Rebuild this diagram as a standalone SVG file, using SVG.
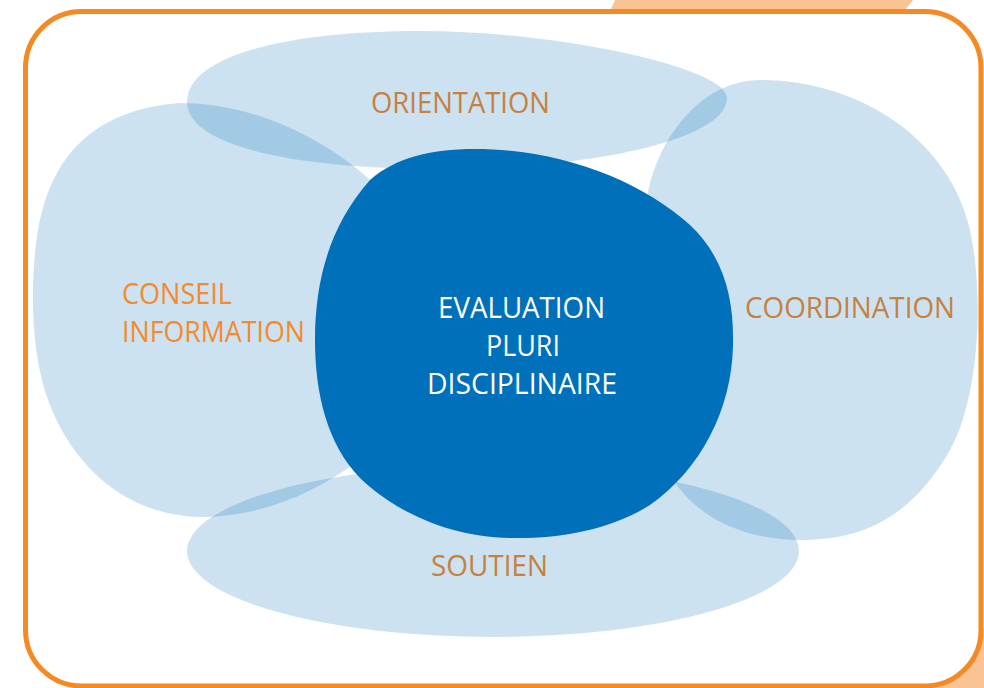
<svg xmlns="http://www.w3.org/2000/svg" width="984" height="688" viewBox="0 0 984 688">
<style>
.bg{fill:#FAC393}
.frame{fill:#ffffff;stroke:#F58A25;stroke-width:5}
.lobe{fill:#0070BA;fill-opacity:0.2}
.core{fill:#0070BA}
.lbl{font-family:"Open Sans","Liberation Sans",Arial,sans-serif;font-size:29px}
.muted{fill:#C6803F}
.bright{fill:#F58A2A}
.white{fill:#ffffff}
</style>
<polygon class="bg" points="615,0 913,0 900,16 608,16"/>
<rect class="bg" x="925" y="628" width="59" height="60"/>
<rect class="frame" x="25.5" y="11.5" width="955.5" height="674.5" rx="56" ry="56"/>
<g id="connectors"/>
<g id="orientation">
<path class="lobe" d="M187,102 C187,55 290,31 420,31 C560,31 727,68 727,98 C727,140 590,169 440,169 C290,169 187,145 187,102 Z"/>
</g>
<g id="conseil-information">
<path class="lobe" d="M180,103 C250,103 320,135 370,180 L385,195 L420,330 L380,440 L355,463 C315,493 260,517 200,517 C120,515 70,460 48,400 C30,350 30,280 38,230 C50,160 90,110 180,103 Z"/>
</g>
<g id="coordination">
<path class="lobe" d="M760,80 C860,80 950,140 970,230 C985,300 978,400 950,450 C910,520 860,540 800,540 C750,540 705,522 678,487 C640,430 630,260 648,193 C658,140 700,80 760,80 Z"/>
</g>
<g id="soutien">
<ellipse class="lobe" cx="493" cy="551" rx="306" ry="86"/>
</g>
<g id="orientation-label"><text class="lbl muted" x="371" y="113" textLength="179" lengthAdjust="spacingAndGlyphs">ORIENTATION</text></g>
<g id="conseil-label">
<text class="lbl bright" x="122" y="304" textLength="110" lengthAdjust="spacingAndGlyphs">CONSEIL</text>
<text class="lbl bright" x="122" y="342" textLength="183" lengthAdjust="spacingAndGlyphs">INFORMATION</text>
</g>
<g id="coordination-label"><text class="lbl muted" x="745" y="318" textLength="210" lengthAdjust="spacingAndGlyphs">COORDINATION</text></g>
<g id="soutien-label"><text class="lbl muted" x="431" y="576" textLength="117" lengthAdjust="spacingAndGlyphs">SOUTIEN</text></g>
<g id="evaluation">
<path class="core" d="M475,149 C560,149 640,180 690,225 C725,258 734,300 733,345 C732,410 700,470 650,505 C610,530 560,539 510,538 C450,537 395,512 360,478 C328,445 315,395 315,340 C315,280 330,225 370,180 C395,158 430,149 475,149 Z"/>
<text class="lbl white" x="438" y="318" textLength="167" lengthAdjust="spacingAndGlyphs">EVALUATION</text>
<text class="lbl white" x="486" y="356" textLength="74" lengthAdjust="spacingAndGlyphs">PLURI</text>
<text class="lbl white" x="427" y="394" textLength="190" lengthAdjust="spacingAndGlyphs">DISCIPLINAIRE</text>
</g>
</svg>
